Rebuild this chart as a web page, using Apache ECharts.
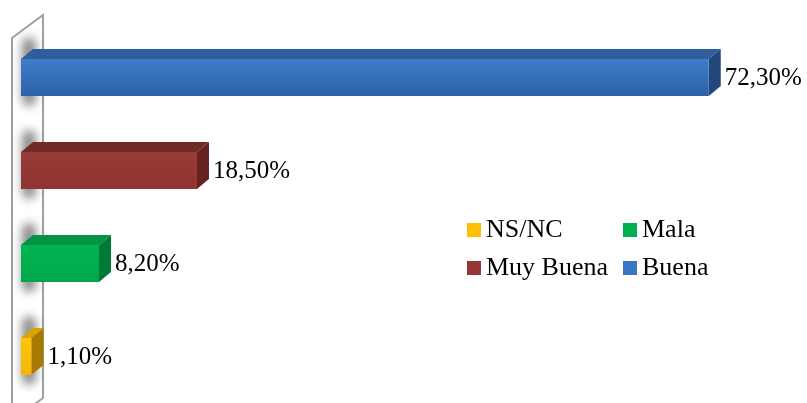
<!DOCTYPE html>
<html>
<head>
<meta charset="utf-8">
<script src="https://cdn.jsdelivr.net/npm/echarts@6/dist/echarts.min.js"></script>
<style>
  html, body { margin: 0; padding: 0; background: #fff; }
  #chart { width: 807px; height: 403px; }
</style>
</head>
<body>
<div id="chart"></div>
<script>
// datos
var categories = ['NS/NC', 'Mala', 'Muy Buena', 'Buena'];
var values = [1.1, 8.2, 18.5, 72.3];

// colores de cada barra: frente (arriba/abajo), tapa, lado
var barColors = [
    {front: ['#FFC30A', '#F5B800'], top: '#D9A300', side: '#A67C00', legend: '#FFC000'},
    {front: ['#00B552', '#00A84B'], top: '#009443', side: '#007A36', legend: '#00B050'},
    {front: ['#983A38', '#8F3432'], top: '#722A29', side: '#662222', legend: '#953735'},
    {front: ['#3E7DCB', '#2D61A8'], top: '#2F5E9C', side: '#22477C', legend: '#3A75C4'}
];

var DX = 12, DY = 10, BAR_H = 37;
var SERIF = '"Liberation Serif", "Times New Roman", serif';
var OFF = 3000; // la sombra se dibuja desplazada desde fuera del lienzo

function fmt(v) {
    return v.toFixed(2).replace('.', ',') + '%';
}

function renderBar(params, api) {
    var idx = api.value(1);
    var end = api.coord([api.value(0), idx]);
    var start = api.coord([0, idx]);
    var c = barColors[params.seriesIndex];
    var x0 = start[0], x1 = end[0];
    var top = end[1] - BAR_H / 2, bottom = top + BAR_H;
    return {
        type: 'group',
        children: [
            // sombra difusa sobre la pared
            {
                type: 'rect',
                shape: {x: x0 + 1 - OFF, y: top - 22, width: 14, height: BAR_H + 32, r: 7},
                style: {
                    fill: '#000',
                    shadowBlur: 10,
                    shadowOffsetX: OFF,
                    shadowColor: 'rgba(0,0,0,0.45)'
                }
            },
            {
                type: 'polygon',
                shape: {points: [[x0, top], [x0 + DX, top - DY], [x1 + DX, top - DY], [x1, top]]},
                style: {fill: c.top}
            },
            {
                type: 'polygon',
                shape: {points: [[x1, top], [x1 + DX, top - DY], [x1 + DX, bottom - DY], [x1, bottom]]},
                style: {fill: c.side}
            },
            {
                type: 'rect',
                shape: {x: x0, y: top, width: x1 - x0, height: BAR_H},
                style: {
                    fill: new echarts.graphic.LinearGradient(0, 0, 0, 1, [
                        {offset: 0, color: c.front[0]},
                        {offset: 1, color: c.front[1]}
                    ])
                }
            },
            {
                type: 'text',
                x: x1 + DX + 4,
                y: end[1] + 1,
                style: {
                    text: fmt(api.value(0)),
                    fill: '#000',
                    font: '25px ' + SERIF,
                    verticalAlign: 'middle',
                    align: 'left'
                }
            }
        ]
    };
}

var series = [];
for (var i = 0; i < categories.length; i++) {
    series.push({
        name: categories[i],
        type: 'custom',
        renderItem: renderBar,
        itemStyle: {color: barColors[i].legend},
        data: [[values[i], i]],
        encode: {x: 0, y: 1}
    });
}

var legendText = {fontFamily: SERIF, fontSize: 26, color: '#000'};

var myChart = echarts.init(document.getElementById('chart'));
var option = {
    animation: false,
    grid: {left: 21, right: 25, top: 31, bottom: 0},
    xAxis: {type: 'value', min: 0, max: 80, show: false},
    yAxis: {type: 'category', data: categories, show: false},
    graphic: [
        {
            type: 'polygon',
            z: 0,
            shape: {points: [[12, 38], [43, 15], [43, 398], [12, 421]]},
            style: {fill: '#fff', stroke: '#a0a0a0', lineWidth: 2}
        }
    ],
    legend: [
        {
            data: ['NS/NC', 'Muy Buena'],
            orient: 'vertical',
            left: 462,
            top: 212,
            itemWidth: 14,
            itemHeight: 14,
            itemGap: 12,
            icon: 'rect',
            textStyle: legendText,
            selectedMode: false
        },
        {
            data: ['Mala', 'Buena'],
            orient: 'vertical',
            left: 618,
            top: 212,
            itemWidth: 14,
            itemHeight: 14,
            itemGap: 12,
            icon: 'rect',
            textStyle: legendText,
            selectedMode: false
        }
    ],
    series: series
};
myChart.setOption(option);
</script>
</body>
</html>
